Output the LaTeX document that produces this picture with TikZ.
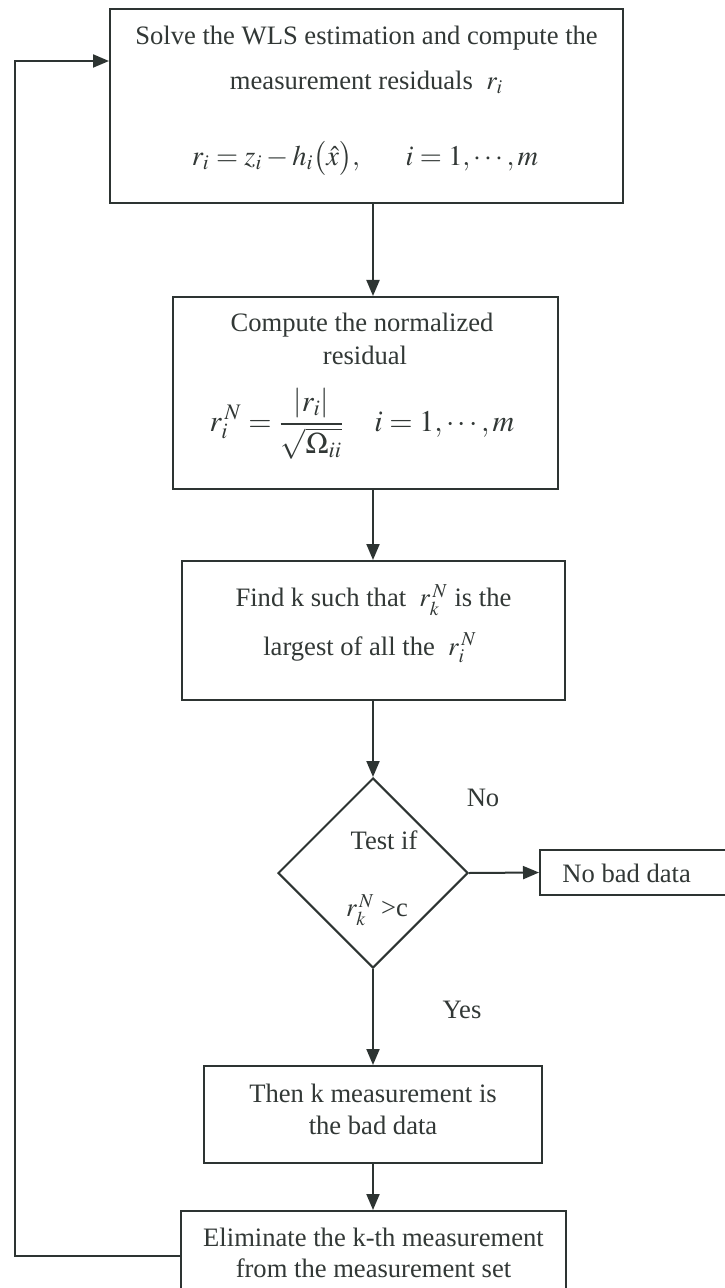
\documentclass[tikz,border=0pt]{standalone}
\usepackage{mathptmx}
\usepackage{fontspec}
\setmainfont{Liberation Serif}
\usetikzlibrary{shapes.geometric,arrows.meta}
\definecolor{lc}{RGB}{45,52,50}
\definecolor{tc}{RGB}{50,56,54}
\begin{document}
\begin{tikzpicture}[x=0.5pt,y=-0.5pt,
  box/.style={draw=lc, line width=1pt, rectangle, inner sep=0pt},
  txt/.style={text=tc, font=\fontsize{13.3}{15.8}\selectfont, inner sep=0pt},
  arr/.style={draw=lc, line width=1pt, -{Triangle[length=8pt,width=6.5pt]}},
  ln/.style={draw=lc, line width=1pt}]
\useasboundingbox (0,0) rectangle (724,1288);
\fill[white] (0,0) rectangle (724,1288);

% box 1
\node[box, minimum width=256.5pt, minimum height=97pt] (b1) at (366.5,106) {};
\node[txt] (b1a) at (366.5,38) {Solve the WLS estimation and compute the};
\node[txt] (b1b) at (366.5,82) {measurement residuals\ \ $r_i$};
\node[txt, font=\fontsize{14.2}{17}\selectfont] (b1c) at (365,158) {$r_i = z_i - h_i\bigl(\hat{x}\bigr),\quad\ \ i=1,\cdots,m$};

% box 2
\node[box, minimum width=192.5pt, minimum height=96pt] (b2) at (365.5,393) {};
\node[txt] (b2a) at (362,325) {Compute the normalized};
\node[txt] (b2b) at (365,355) {residual};
\node[txt, font=\fontsize{15}{18}\selectfont] (b2c) at (362,424) {$\displaystyle r_i^{\,N} = \frac{\left|r_i\right|}{\sqrt{\Omega_{ii}}}\quad i=1,\cdots,m$};

% box 3
\node[box, minimum width=191.5pt, minimum height=69.5pt] (b3) at (373.5,630.5) {};
\node[txt] (b3a) at (373.5,600) {Find k such that\ \ $r_k^{\,N}$ is the};
\node[txt] (b3b) at (370,648) {largest of all the\ \ $r_i^{\,N}$};

% decision
\node[draw=lc, line width=1pt, diamond, aspect=1, minimum width=95pt, minimum height=95pt, inner sep=0pt] (d) at (373,873) {};
\node[txt] (da) at (384,840) {Test if};
\node[txt] (db) at (377,910) {$r_k^{\,N}$ >c};
\node[txt] (no) at (483,798) {No};
\node[txt] (yes) at (462,1010) {Yes};

% no bad data
\node[box, minimum width=97.5pt, minimum height=22.5pt] (nb) at (637.5,872.5) {};
\node[txt, anchor=west] (nbt) at (562,873) {No bad data};

% box 4
\node[box, minimum width=169pt, minimum height=48.5pt] (b4) at (373,1114.5) {};
\node[txt] (b4a) at (373,1093) {Then k measurement is};
\node[txt] (b4b) at (373,1125) {the bad data};

% box 5
\node[box, minimum width=192.5pt, minimum height=44.5pt] (b5) at (373.5,1255.5) {};
\node[txt] (b5a) at (373.5,1237) {Eliminate the k-th measurement};
\node[txt] (b5b) at (373.5,1268) {from the measurement set};

% connectors
\draw[arr] (b1.south -| d.north) -- (b2.north -| d.north);
\draw[arr] (b2.south -| d.north) -- (b3.north -| d.north);
\draw[arr] (b3.south -| d.north) -- (d.north);
\draw[arr] (d.east) -- (nb.west);
\draw[arr] (d.south) -- (b4.north -| d.south);
\draw[arr] (b4.south) -- (b5.north -| b4.south);
\coordinate (lt) at (15,61);
\draw[arr] (b5.west) -| (lt) -- (lt -| b1.west);
\end{tikzpicture}
\end{document}
